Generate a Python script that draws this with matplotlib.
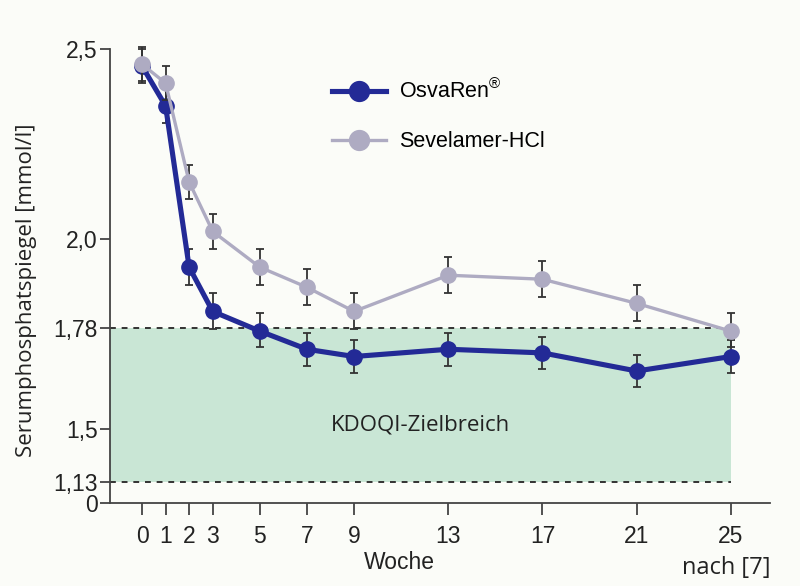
import numpy as np
import matplotlib
matplotlib.use('Agg')
import matplotlib.pyplot as plt
from matplotlib.scale import FuncScale

# weeks and mean serum phosphate (mmol/l)
weeks = [0, 1, 2, 3, 5, 7, 9, 13, 17, 21, 25]
osvaren = [2.455, 2.35, 1.93, 1.82, 1.77, 1.72, 1.70, 1.72, 1.71, 1.66, 1.70]
sevelamer = [2.46, 2.41, 2.15, 2.02, 1.93, 1.88, 1.82, 1.91, 1.90, 1.84, 1.77]
err_osvaren = [0.045] * 11
err_sevelamer = [0.045] * 11

yticks = [0, 1.13, 1.5, 1.78, 2.0, 2.5]
ytick_labels = ['0', '1,13', '1,5', '1,78', '2,0', '2,5']
target = (1.13, 1.78)

# the printed y axis is not linear: tick values -> drawn heights
y_vals = [0, 1.13, 1.5, 1.78, 2.0, 2.5, 3.0]
y_pos = [0, 21, 74, 175.5, 264, 454, 644]

def fwd(v):
    return np.interp(v, y_vals, y_pos)

def inv(p):
    return np.interp(p, y_pos, y_vals)

blue = '#232a96'
grey = '#aeabc2'
green = '#c9e6d5'
bg = '#fbfcf8'
ink = '#222222'

plt.rcParams['mathtext.fontset'] = 'custom'
plt.rcParams['mathtext.rm'] = 'Liberation Sans'

fig = plt.figure(figsize=(8, 5.86), dpi=100, facecolor=bg)
ax = fig.add_axes([0.1375, 0.1416, 0.825, 0.7748])
ax.set_facecolor(bg)
ax.set_yscale(FuncScale(ax.yaxis, (fwd, inv)))
ax.set_xlim(-1.36, 26.66)
ax.set_ylim(0, 2.5)

# KDOQI target range
ax.fill_between([-1.36, 25], target[0], target[1], color=green, zorder=0, lw=0)
for t in target:
    ax.plot([-1.36, 25], [t, t], color='#333333', ls=(0, (3, 3)), lw=1.4, zorder=1)

eb1 = ax.errorbar(weeks, osvaren, yerr=err_osvaren, color=blue, lw=3.7, marker='o',
                  markersize=11, ecolor='#333333', elinewidth=1.3, capsize=3,
                  capthick=1.3, zorder=3, clip_on=False)
eb2 = ax.errorbar(weeks, sevelamer, yerr=err_sevelamer, color=grey, lw=2.4, marker='o',
                  markersize=11, ecolor='#333333', elinewidth=1.3, capsize=3,
                  capthick=1.3, zorder=4, clip_on=False)

for s in ['top', 'right']:
    ax.spines[s].set_visible(False)
for s in ['left', 'bottom']:
    ax.spines[s].set_color('#444444')
    ax.spines[s].set_linewidth(1.3)

ax.set_xticks(weeks)
ax.set_xticklabels([str(w) for w in weeks], family='Liberation Sans', fontsize=16.5)
ax.set_yticks(yticks)
ax.set_yticklabels(ytick_labels, family='Liberation Sans', fontsize=16.5)
ax.yaxis.set_minor_locator(matplotlib.ticker.NullLocator())
ax.tick_params(axis='both', direction='out', width=1.3, color='#444444',
               labelcolor=ink)
ax.tick_params(axis='x', length=8.5, pad=7)
ax.tick_params(axis='y', length=7, pad=2)

ax.set_xlabel('Woche', family='Liberation Sans', fontsize=16.5, color=ink)
ax.xaxis.label.set_va('center')
ax.xaxis.set_label_coords(0.439, -0.13)
ax.set_ylabel('Serumphosphatspiegel [mmol/l]', family='Open Sans', fontsize=16,
              color=ink)
ax.yaxis.set_label_coords(-0.11, 0.469)

ax.text(11.84, 1.51, 'KDOQI-Zielbreich', family='Open Sans', fontsize=16,
        color=ink, ha='center', va='center')
fig.text(0.963, 0.031, 'nach [7]', family='Open Sans', fontsize=17,
         color=ink, ha='right', va='center')

ax.legend([eb1[0], eb2[0]], [r'OsvaRen$^{\circledR}$', 'Sevelamer-HCl'],
          loc='upper left', bbox_to_anchor=(0.3364, 0.934), frameon=False,
          borderaxespad=0, borderpad=0, handlelength=2.5, handletextpad=0.6,
          labelspacing=1.3, markerscale=1.3,
          prop={'family': 'Liberation Sans', 'size': 15.5})

fig.savefig('out.png', dpi=100, facecolor=bg)
